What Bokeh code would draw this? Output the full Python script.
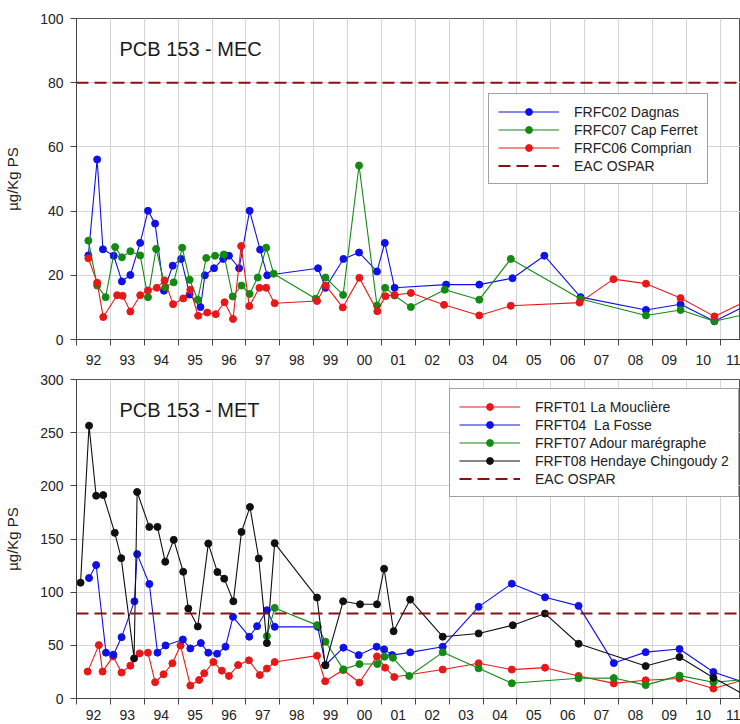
from bokeh.plotting import figure
from bokeh.layouts import column
from bokeh.models import FixedTicker, Label, Legend, LegendItem, Range1d
from bokeh.embed import file_html
from bokeh.resources import INLINE

FONT = "Liberation Sans"

# ---- axis settings -------------------------------------------------------
YEARS = list(range(1992, 2012))                       # year boundaries (grid)
YEAR_LABELS = [f"{y % 100:02d}" for y in YEARS]       # "92" ... "11"
X_START, X_END = 1992.0, 2011.6
EAC = 80                                              # EAC OSPAR threshold

# ---- PCB 153 - MEC (decimal year, µg/Kg PS) ------------------------------
mec_dagnas_x = [1992.35, 1992.61, 1992.78, 1993.10, 1993.34, 1993.59, 1993.88, 1994.11, 1994.32, 1994.58,
                1994.84, 1995.09, 1995.34, 1995.66, 1995.79, 1996.06, 1996.33, 1996.50, 1996.80, 1997.11,
                1997.42, 1997.63, 1999.13, 1999.35, 1999.88, 2000.34, 2000.87, 2001.10, 2001.39, 2002.91,
                2003.89, 2004.87, 2005.81, 2006.88, 2008.81, 2009.83, 2010.83, 2011.85]
mec_dagnas_y = [26.2, 56.1, 28.1, 26.1, 18.1, 20.1, 30.1, 40.1, 36.1, 15.2,
                23.0, 25.1, 14.0, 10.1, 20.0, 22.2, 25.1, 26.1, 22.2, 40.1,
                28.0, 20.0, 22.2, 16.1, 25.1, 27.1, 21.2, 30.1, 16.1, 17.1,
                17.1, 19.1, 26.1, 13.2, 9.2, 11.0, 5.7, 11.0]

mec_capferret_x = [1992.35, 1992.61, 1992.86, 1993.14, 1993.34, 1993.59, 1993.88, 1994.11, 1994.35, 1994.62,
                   1994.87, 1995.12, 1995.34, 1995.58, 1995.83, 1996.09, 1996.35, 1996.61, 1996.87, 1997.11,
                   1997.35, 1997.60, 1997.82, 1999.06, 1999.35, 1999.87, 2000.34, 2000.87, 2001.11, 2001.39,
                   2001.87, 2002.87, 2003.89, 2004.82, 2006.88, 2008.81, 2009.83, 2010.83, 2011.85]
mec_capferret_y = [30.8, 16.8, 13.2, 28.8, 25.6, 27.5, 26.2, 13.2, 28.2, 16.3,
                   17.8, 28.6, 18.6, 12.4, 25.4, 26.1, 26.5, 13.4, 16.8, 14.2,
                   19.3, 28.6, 20.5, 12.7, 19.3, 13.9, 54.2, 10.6, 16.1, 13.7,
                   10.1, 15.5, 12.4, 25.1, 12.6, 7.5, 9.2, 5.7, 8.1]

mec_comprian_x = [1992.35, 1992.61, 1992.79, 1993.20, 1993.36, 1993.59, 1993.88, 1994.11, 1994.37, 1994.60,
                  1994.85, 1995.15, 1995.36, 1995.59, 1995.86, 1996.11, 1996.37, 1996.62, 1996.86, 1997.10,
                  1997.40, 1997.60, 1997.85, 1999.10, 1999.36, 1999.86, 2000.35, 2000.88, 2001.12, 2001.39,
                  2001.87, 2002.85, 2003.89, 2004.82, 2006.85, 2007.85, 2008.81, 2009.83, 2010.83, 2011.85]
mec_comprian_y = [25.3, 17.7, 7.0, 13.8, 13.6, 8.7, 13.8, 15.3, 16.1, 18.4,
                  11.0, 12.8, 15.5, 7.4, 8.4, 7.9, 11.6, 6.4, 29.1, 10.4,
                  16.1, 16.1, 11.3, 12.0, 16.8, 10.0, 19.2, 8.8, 13.5, 13.9,
                  14.5, 10.8, 7.5, 10.5, 11.5, 18.8, 17.4, 12.9, 7.2, 12.4]

# ---- PCB 153 - MET -------------------------------------------------------
met_moucliere_x = [1992.33, 1992.66, 1992.77, 1993.08, 1993.33, 1993.59, 1993.86, 1994.11, 1994.32, 1994.57,
                   1994.83, 1995.07, 1995.36, 1995.62, 1995.77, 1996.04, 1996.29, 1996.50, 1996.77, 1997.09,
                   1997.41, 1997.62, 1997.85, 1999.10, 1999.34, 1999.87, 2000.35, 2000.87, 2001.11, 2001.38,
                   2002.81, 2003.87, 2004.85, 2005.83, 2006.82, 2007.86, 2008.80, 2009.80, 2010.80, 2011.80]
met_moucliere_y = [25.3, 50.2, 25.3, 39.6, 24.4, 30.9, 42.4, 43.1, 15.3, 22.8,
                   33.1, 49.9, 12.2, 17.4, 23.7, 34.3, 26.2, 21.2, 31.5, 35.9,
                   22.1, 28.1, 34.3, 40.3, 16.2, 26.8, 15.0, 39.6, 29.0, 20.2,
                   27.2, 33.1, 27.2, 29.0, 21.2, 14.2, 17.1, 18.8, 9.4, 18.4]

met_fosse_x = [1992.37, 1992.58, 1992.87, 1993.09, 1993.33, 1993.71, 1993.79, 1994.15, 1994.39, 1994.63,
               1995.14, 1995.36, 1995.67, 1995.89, 1996.15, 1996.40, 1996.62, 1997.10, 1997.33, 1997.62,
               1997.85, 1999.12, 1999.35, 1999.88, 2000.33, 2000.86, 2001.08, 2001.32, 2001.85, 2002.81,
               2003.87, 2004.85, 2005.83, 2006.82, 2007.86, 2008.80, 2009.80, 2010.80, 2011.80]
met_fosse_y = [113.3, 125.5, 43.1, 41.2, 57.7, 91.4, 135.8, 107.7, 43.1, 49.9,
               55.5, 47.1, 52.1, 43.1, 42.1, 48.7, 76.8, 58.1, 68.0, 83.0,
               67.4, 67.4, 31.5, 47.8, 40.8, 48.7, 46.2, 40.8, 43.4, 48.7,
               86.2, 108.0, 95.2, 87.1, 33.3, 43.6, 46.5, 24.9, 14.0]

met_adour_x = [1997.62, 1997.85, 1999.10, 1999.35, 1999.88, 2000.35, 2000.88, 2001.09, 2001.34, 2001.82,
               2002.81, 2003.87, 2004.85, 2006.82, 2007.86, 2008.80, 2009.80, 2010.80, 2011.80]
met_adour_y = [58.6, 85.2, 69.0, 53.4, 27.4, 32.4, 32.4, 39.3, 38.3, 21.2,
               43.4, 28.4, 14.3, 19.0, 19.2, 12.6, 21.5, 15.3, 18.0]

met_hendaye_x = [1992.12, 1992.37, 1992.58, 1992.79, 1993.13, 1993.32, 1993.70, 1993.79, 1994.15, 1994.39,
                 1994.62, 1994.87, 1995.15, 1995.30, 1995.58, 1995.89, 1996.16, 1996.36, 1996.63, 1996.87,
                 1997.12, 1997.38, 1997.62, 1997.85, 1999.10, 1999.34, 1999.87, 2000.37, 2000.87, 2001.08,
                 2001.36, 2001.85, 2002.81, 2003.87, 2004.88, 2005.83, 2006.82, 2008.80, 2009.80, 2010.80,
                 2011.80]
met_hendaye_y = [108.9, 256.6, 190.7, 191.3, 155.8, 132.0, 37.7, 194.2, 161.4, 161.4,
                 128.6, 149.2, 119.2, 84.6, 67.7, 145.7, 118.9, 112.7, 91.4, 156.7,
                 180.1, 131.7, 52.1, 146.1, 94.9, 31.2, 91.4, 88.6, 88.6, 122.0,
                 63.3, 93.0, 58.1, 61.2, 68.9, 79.9, 51.5, 30.5, 39.0, 19.5,
                 2.0]

BLUE, GREEN, RED, BLACK = "#1010e8", "#138a13", "#e81818", "#101010"
EAC_COLOR = "#8b1010"


def make_panel(title, y_max, y_step, series, border_top, frame_h, border_bottom,
               x_standoff, legend_xy):
    p = figure(frame_width=664, frame_height=frame_h,
               min_border_left=76, min_border_right=0,
               min_border_top=border_top, min_border_bottom=border_bottom,
               x_range=Range1d(X_START, X_END), y_range=Range1d(0, y_max),
               output_backend="svg", toolbar_location=None,
               background_fill_color="white", border_fill_color="white")
    p.outline_line_color = "#555555"

    # x axis: labels in the middle of each year, ticks and grid on year boundaries
    xt = FixedTicker(ticks=[y + 0.5 for y in YEARS], minor_ticks=YEARS)
    p.xaxis.ticker = xt
    p.xaxis.major_label_overrides = {y + 0.5: lab for y, lab in zip(YEARS, YEAR_LABELS)}
    p.xaxis.major_tick_out = 0
    p.xaxis.major_tick_in = 0
    p.xaxis.minor_tick_out = 6
    p.xaxis.minor_tick_in = 0
    p.xaxis.major_label_standoff = x_standoff
    p.xgrid.grid_line_color = None
    p.xgrid.minor_grid_line_color = "#d4d4d4"

    yt = FixedTicker(ticks=list(range(0, y_max + 1, y_step)))
    p.yaxis.ticker = yt
    p.yaxis.major_tick_out = 6
    p.yaxis.major_tick_in = 0
    p.yaxis.minor_tick_out = 0
    p.yaxis.major_label_standoff = 7
    p.yaxis.axis_label = "µg/Kg PS"
    p.yaxis.axis_label_standoff = 16
    p.yaxis.axis_label_text_font_style = "normal"
    p.yaxis.axis_label_text_font_size = "15px"
    p.yaxis.axis_label_text_font = FONT
    p.yaxis.axis_label_text_color = "#222222"
    p.ygrid.grid_line_color = "#d4d4d4"

    for ax in (p.xaxis, p.yaxis):
        ax.axis_line_color = "#444444"
        ax.major_tick_line_color = "#444444"
        ax.minor_tick_line_color = "#444444"
        ax.major_label_text_font = FONT
        ax.major_label_text_font_size = "14px"
        ax.major_label_text_color = "#222222"

    items = []
    for label, xs, ys, color in series:
        ln = p.line(xs, ys, line_color=color, line_width=1.1)
        sc = p.scatter(xs, ys, marker="circle", size=7, fill_color=color, line_color=color)
        items.append(LegendItem(label=label, renderers=[ln, sc]))

    eac = p.line([X_START, X_END], [EAC, EAC], line_color=EAC_COLOR, line_width=2, line_dash="12 6")
    items.append(LegendItem(label="EAC OSPAR", renderers=[eac]))

    legend = Legend(items=items, location=legend_xy, margin=0, padding=9, spacing=1,
                    glyph_width=61, glyph_height=17, label_height=17, label_standoff=15,
                    label_text_font=FONT, label_text_font_size="14px", label_text_color="#222222",
                    border_line_color="#444444", border_line_width=1,
                    background_fill_color="white", background_fill_alpha=1.0)
    p.add_layout(legend)

    p.add_layout(Label(x=43, y=frame_h - 30, x_units="screen", y_units="screen", text=title,
                       text_font=FONT, text_font_size="20px", text_color="#1a1a1a",
                       text_baseline="middle", text_align="left"))
    return p


top = make_panel("PCB 153 - MEC", 100, 20,
                 [("FRFC02 Dagnas", mec_dagnas_x, mec_dagnas_y, BLUE),
                  ("FRFC07 Cap Ferret", mec_capferret_x, mec_capferret_y, GREEN),
                  ("FRFC06 Comprian", mec_comprian_x, mec_comprian_y, RED)],
                 border_top=18, frame_h=321, border_bottom=28, x_standoff=9,
                 legend_xy=(412, 155))

bottom = make_panel("PCB 153 - MET", 300, 50,
                    [("FRFT01 La Mouclière", met_moucliere_x, met_moucliere_y, RED),
                     ("FRFT04  La Fosse", met_fosse_x, met_fosse_y, BLUE),
                     ("FRFT07 Adour marégraphe", met_adour_x, met_adour_y, GREEN),
                     ("FRFT08 Hendaye Chingoudy 2", met_hendaye_x, met_hendaye_y, BLACK)],
                    border_top=12, frame_h=319, border_bottom=26, x_standoff=5,
                    legend_xy=(373, 201))

layout = column(top, bottom, spacing=0)
open("out.html", "w").write(file_html(layout, INLINE))
